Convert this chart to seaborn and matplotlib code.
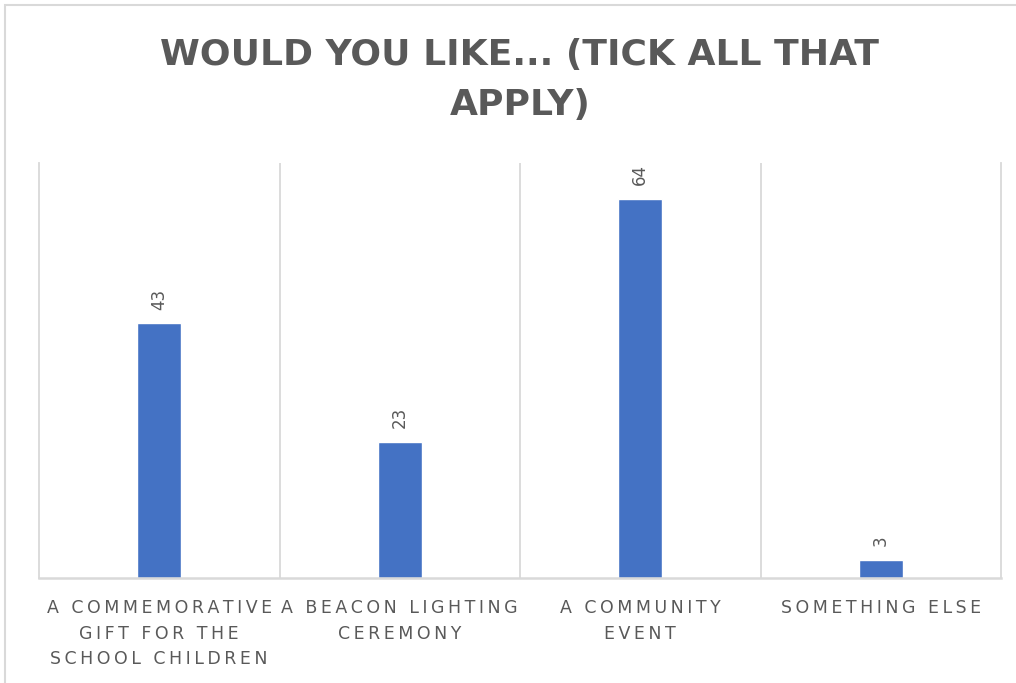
import matplotlib
matplotlib.use("Agg")
import matplotlib.pyplot as plt
import seaborn as sns
import pandas as pd
from matplotlib.patches import Rectangle

categories = ["A COMMEMORATIVE\nGIFT FOR THE\nSCHOOL CHILDREN",
              "A BEACON LIGHTING\nCEREMONY",
              "A COMMUNITY\nEVENT",
              "SOMETHING ELSE"]
values = [43, 23, 64, 3]
title = "WOULD YOU LIKE... (TICK ALL THAT\nAPPLY)"

TEXT = "#595959"
GRID = "#D9D9D9"
BAR = "#4472C4"

sns.set_theme(style="white")
plt.rcParams['font.family'] = ['DejaVu Sans']


def spaced(s, sep="\u2009"):
    lines = []
    for line in s.split("\n"):
        lines.append(sep.join(list(line)))
    return "\n".join(lines)


df = pd.DataFrame({"cat": categories, "val": values})

fig = plt.figure(figsize=(10.16, 6.83), dpi=100)
ax = fig.add_axes([39/1016, 1-578/683, (1001-39)/1016, (578-163)/683])

sns.barplot(data=df, x="cat", y="val", color=BAR, width=0.185, saturation=1, ax=ax)

ax.set_xlim(-0.5, 3.5)
ax.set_ylim(0, 70.1)
ax.set_yticks([])
ax.set_xlabel("")
ax.set_ylabel("")

ax.set_xticks(range(len(categories)))
ax.set_xticklabels([spaced(c) for c in categories], color=TEXT, fontsize=12.5,
                   linespacing=1.55, va="top")
ax.tick_params(axis="x", length=0, pad=15)

ax.set_xticks([0.5, 1.5, 2.5], minor=True)
ax.grid(True, which="minor", axis="x", color=GRID, linewidth=1.3)
ax.tick_params(axis="x", which="minor", length=0)

for side in ["left", "right"]:
    ax.spines[side].set_color(GRID)
    ax.spines[side].set_linewidth(1.3)
ax.spines["top"].set_visible(False)
ax.spines["bottom"].set_color(GRID)
ax.spines["bottom"].set_linewidth(1.8)

for i, v in enumerate(values):
    ax.annotate(str(v), xy=(i, v), xytext=(0, 10), textcoords="offset points",
                rotation=90, ha="center", va="bottom", color=TEXT, fontsize=12)

fig.text(520/1016, 1-80/683, title, ha="center", va="center", fontsize=26,
         fontweight="bold", color=TEXT, linespacing=1.6)

# chart outer border (top and left visible)
fig.patches.append(Rectangle((5/1016, -0.1), 1.2, 1-5/683+0.1, transform=fig.transFigure,
                             fill=False, edgecolor=GRID, linewidth=1.5, zorder=0))

fig.savefig("out.png", dpi=100)
